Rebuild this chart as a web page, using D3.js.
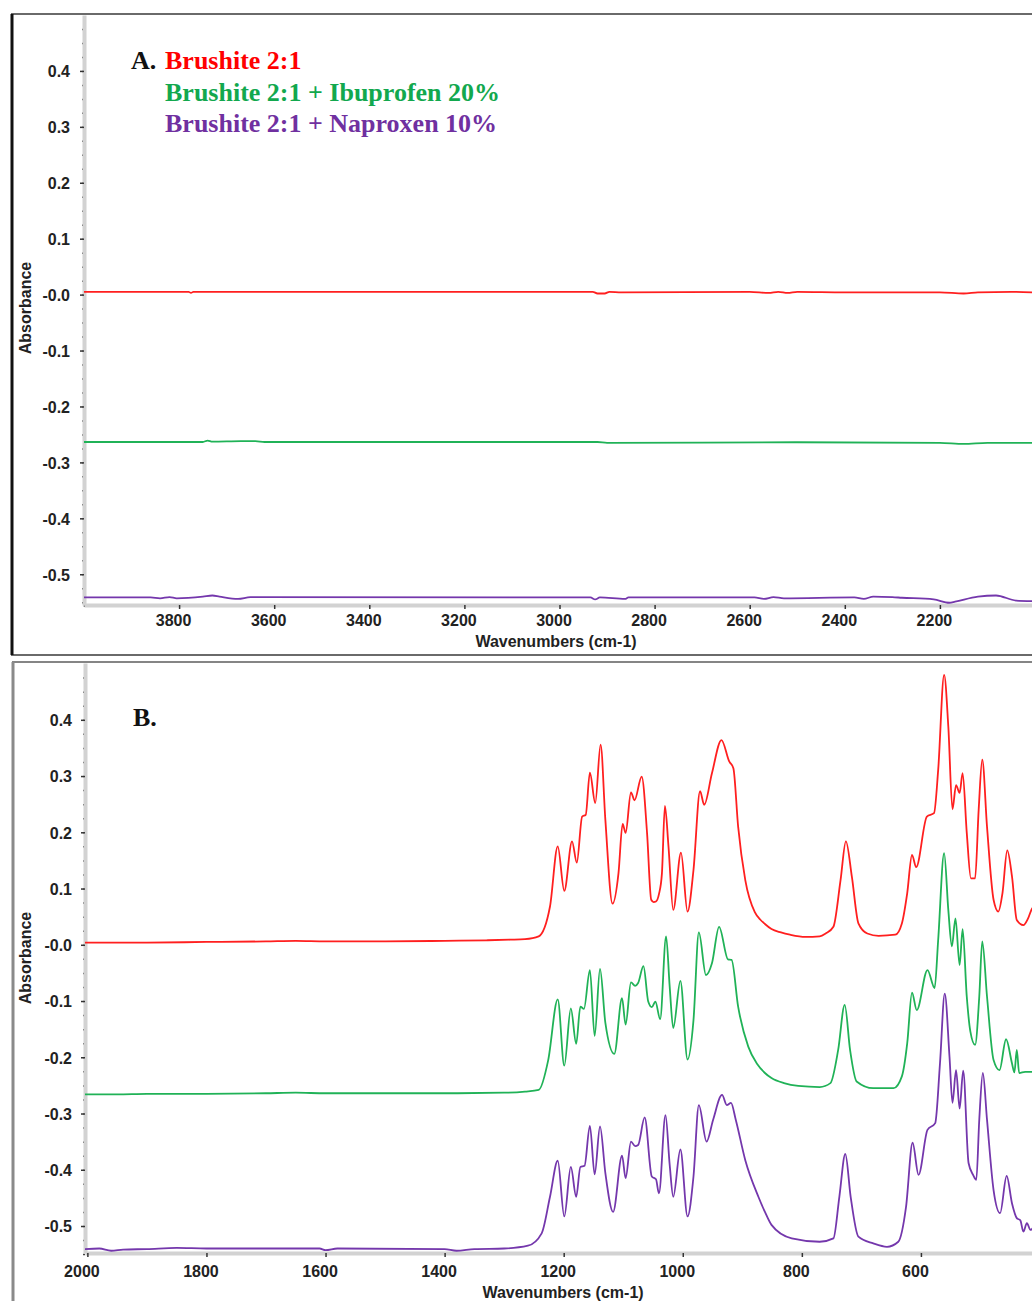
<!DOCTYPE html>
<html>
<head>
<meta charset="utf-8">
<script src="https://cdn.jsdelivr.net/npm/d3@7/dist/d3.min.js"></script>
<style>
  body { margin: 0; background: #fff; }
  svg { display: block; font-family: "Liberation Sans", Arial, sans-serif; }
  .tick text { font-size: 16px; font-weight: bold; fill: #222; }
  .axis .domain { stroke: #d2d2d2; stroke-width: 4; }
  .axis .tick line { stroke: #333; stroke-width: 1.5; }
  .minor .domain { display: none; }
  .minor .tick line { stroke: #444; stroke-width: 1.5; }
  .minor .tick text { display: none; }
</style>
</head>
<body>
<svg id="chart" width="1032" height="1301"></svg>
<script>
// ---- panel A (4000-2000 cm-1): all three traces are flat here
var brushiteA_wn  = [4000, 3780, 3775, 3770, 2930, 2920, 2905, 2895, 2870, 2600, 2560, 2540, 2520, 2500, 2400, 2200, 2150, 2120, 2050, 2000];
var brushiteA_abs = [0.005, 0.005, 0.003, 0.005, 0.005, 0.002, 0.002, 0.005, 0.004, 0.005, 0.003, 0.005, 0.003, 0.005, 0.004, 0.004, 0.002, 0.004, 0.005, 0.004];

var ibuA_wn  = [4000, 3750, 3740, 3730, 3670, 3640, 3620, 2920, 2900, 2500, 2200, 2150, 2100, 2000];
var ibuA_abs = [-0.2635, -0.2635, -0.261, -0.263, -0.262, -0.262, -0.2635, -0.2635, -0.265, -0.264, -0.265, -0.267, -0.265, -0.265];

var napA_wn  = [4000, 3860, 3840, 3820, 3805, 3750, 3730, 3715, 3676, 3650, 2935, 2925, 2915, 2862, 2855, 2590, 2570, 2550, 2528, 2380, 2360, 2340, 2300, 2280, 2213, 2180, 2168, 2120, 2082, 2040, 2000];
var napA_abs = [-0.5415, -0.5415, -0.543, -0.541, -0.543, -0.540, -0.538, -0.540, -0.544, -0.541, -0.5415, -0.545, -0.5415, -0.544, -0.5415, -0.5415, -0.544, -0.541, -0.543, -0.5415, -0.544, -0.540, -0.541, -0.542, -0.545, -0.551, -0.549, -0.540, -0.538, -0.547, -0.548];

// ---- panel B (2000-400 cm-1)
var brushiteB_wn  = [2004, 1900, 1800, 1700, 1650, 1600, 1500, 1400, 1330, 1290, 1265, 1242, 1223, 1210, 1199, 1186, 1178, 1169, 1163, 1156, 1147, 1138, 1130, 1118, 1108, 1101, 1096, 1087, 1081, 1069, 1060, 1053, 1049, 1045, 1040, 1035, 1030, 1024, 1016, 1003, 992, 982, 971, 964, 951, 935, 922, 915, 907, 895, 879, 870, 862, 851, 835, 820, 794, 770, 760, 747, 735, 726, 716, 705, 690, 671, 643, 632, 623, 615, 608, 590, 578, 571, 561, 554, 547, 541, 535, 530, 523, 516, 509, 503, 497, 489, 478, 470, 463, 455, 447, 439, 428, 420, 413, 405];
var brushiteB_abs = [0.004, 0.004, 0.005, 0.006, 0.007, 0.006, 0.006, 0.007, 0.008, 0.009, 0.010, 0.015, 0.068, 0.175, 0.096, 0.184, 0.146, 0.228, 0.231, 0.306, 0.252, 0.356, 0.222, 0.073, 0.127, 0.215, 0.199, 0.271, 0.257, 0.299, 0.199, 0.080, 0.076, 0.077, 0.090, 0.127, 0.247, 0.175, 0.062, 0.164, 0.059, 0.133, 0.273, 0.249, 0.305, 0.364, 0.326, 0.314, 0.210, 0.115, 0.058, 0.045, 0.037, 0.028, 0.022, 0.018, 0.014, 0.015, 0.020, 0.032, 0.115, 0.184, 0.121, 0.038, 0.020, 0.016, 0.018, 0.038, 0.092, 0.160, 0.138, 0.228, 0.234, 0.311, 0.480, 0.388, 0.241, 0.284, 0.270, 0.305, 0.199, 0.118, 0.118, 0.240, 0.329, 0.210, 0.080, 0.059, 0.092, 0.168, 0.121, 0.044, 0.035, 0.047, 0.065, 0.070];

var ibuB_wn  = [2004, 1950, 1900, 1800, 1700, 1650, 1600, 1500, 1400, 1300, 1265, 1242, 1226, 1210, 1199, 1188, 1179, 1172, 1166, 1156, 1148, 1139, 1130, 1115, 1102, 1096, 1087, 1080, 1075, 1066, 1058, 1052, 1046, 1038, 1028, 1022, 1016, 1004, 992, 982, 973, 961, 951, 939, 924, 918, 907, 890, 875, 862, 851, 830, 806, 770, 752, 739, 728, 719, 708, 680, 646, 632, 623, 615, 607, 589, 577, 571, 561, 554, 548, 542, 535, 530, 523, 517, 509, 502, 497, 489, 478, 468, 457, 447, 443, 439, 435, 425, 413, 405];
var ibuB_abs = [-0.266, -0.266, -0.265, -0.265, -0.264, -0.263, -0.264, -0.264, -0.264, -0.263, -0.261, -0.258, -0.205, -0.097, -0.215, -0.113, -0.176, -0.110, -0.114, -0.045, -0.162, -0.043, -0.139, -0.194, -0.095, -0.142, -0.067, -0.073, -0.068, -0.038, -0.101, -0.111, -0.101, -0.132, 0.015, -0.074, -0.148, -0.064, -0.204, -0.134, 0.022, -0.054, -0.033, 0.032, -0.026, -0.027, -0.110, -0.181, -0.212, -0.228, -0.237, -0.246, -0.251, -0.253, -0.246, -0.187, -0.107, -0.187, -0.243, -0.255, -0.255, -0.234, -0.175, -0.085, -0.116, -0.045, -0.077, 0.009, 0.163, 0.062, -0.003, 0.047, -0.036, 0.028, -0.092, -0.154, -0.178, -0.092, 0.006, -0.092, -0.205, -0.223, -0.168, -0.211, -0.227, -0.187, -0.228, -0.226, -0.226, -0.227];

var napB_wn  = [2004, 1980, 1960, 1940, 1900, 1850, 1800, 1700, 1610, 1600, 1580, 1400, 1380, 1350, 1300, 1260, 1237, 1223, 1210, 1199, 1188, 1179, 1172, 1165, 1156, 1148, 1139, 1130, 1117, 1102, 1096, 1087, 1080, 1075, 1064, 1052, 1045, 1040, 1029, 1022, 1016, 1004, 992, 982, 973, 960, 949, 934, 926, 919, 911, 895, 873, 862, 851, 817, 770, 747, 737, 727, 718, 705, 680, 657, 638, 625, 614, 604, 589, 576, 568, 560, 552, 547, 541, 535, 529, 520, 512, 507, 502, 496, 489, 478, 467, 456, 447, 439, 433, 428, 422, 416, 410];
var napB_abs = [-0.541, -0.540, -0.544, -0.542, -0.541, -0.539, -0.540, -0.540, -0.540, -0.543, -0.540, -0.541, -0.544, -0.541, -0.540, -0.535, -0.513, -0.448, -0.384, -0.483, -0.395, -0.448, -0.395, -0.393, -0.322, -0.408, -0.323, -0.406, -0.475, -0.375, -0.415, -0.350, -0.358, -0.356, -0.307, -0.412, -0.417, -0.442, -0.303, -0.391, -0.448, -0.364, -0.483, -0.412, -0.285, -0.350, -0.311, -0.267, -0.285, -0.281, -0.311, -0.383, -0.448, -0.475, -0.498, -0.522, -0.528, -0.522, -0.448, -0.372, -0.448, -0.519, -0.531, -0.537, -0.528, -0.466, -0.352, -0.409, -0.329, -0.317, -0.211, -0.087, -0.199, -0.281, -0.223, -0.291, -0.224, -0.388, -0.410, -0.418, -0.311, -0.228, -0.311, -0.436, -0.477, -0.411, -0.460, -0.486, -0.490, -0.510, -0.495, -0.507, -0.500];

var legendLabels = ["Brushite 2:1", "Brushite 2:1 + Ibuprofen 20%", "Brushite 2:1 + Naproxen 10%"];
var lineColors = ["#ff1f1f", "#20b257", "#7437ac"];
var textColors = ["#ff0000", "#12a84e", "#7030a0"];

var yTicks = d3.range(-5, 5).map(function(i) { return i / 10; });
var xTicksA = [3800, 3600, 3400, 3200, 3000, 2800, 2600, 2400, 2200];
var xTicksB = [2000, 1800, 1600, 1400, 1200, 1000, 800, 600];

var svg = d3.select("#chart");

function zip(wn, ab) {
  return wn.map(function(w, i) { return [w, ab[i]]; });
}

function yFormat(d) {
  return (d <= 0 ? "-" : "") + Math.abs(d).toFixed(1);
}

function drawPanel(opt) {
  var x = d3.scaleLinear().domain(opt.xDomain).range(opt.xRange);
  var y = d3.scaleLinear().domain(opt.yDomain).range(opt.yRange);
  var g = svg.append("g");

  // frame
  g.append("rect")
    .attr("x", opt.frame[0]).attr("y", opt.frame[1])
    .attr("width", 1200).attr("height", opt.frame[2])
    .attr("fill", "none")
    .attr("stroke", opt.frameColor)
    .attr("stroke-width", 2);
  g.append("line")
    .attr("x1", opt.frame[0]).attr("x2", opt.frame[0])
    .attr("y1", opt.frame[1]).attr("y2", opt.frame[1] + opt.frame[2])
    .attr("stroke", opt.leftColor)
    .attr("stroke-width", 3);

  var xMin = opt.xRange[0];
  var yMax = opt.yRange[0];

  // minor ticks first, under the axis band
  g.append("g").attr("class", "minor")
    .attr("transform", "translate(" + xMin + ",0)")
    .call(d3.axisLeft(y).tickValues(d3.range(-0.55, 0.5, 0.025)).tickSize(2).tickSizeOuter(0));
  var minX = d3.range(opt.xDomain[1], opt.xDomain[0] + 1, 50).filter(function(v) { return v % 50 === 0; });
  g.append("g").attr("class", "minor")
    .attr("transform", "translate(0," + yMax + ")")
    .call(d3.axisBottom(x).tickValues(minX).tickSize(2).tickSizeOuter(0));

  var ya = g.append("g").attr("class", "axis")
    .attr("transform", "translate(" + xMin + ",0)")
    .call(d3.axisLeft(y).tickValues(yTicks).tickFormat(yFormat)
      .tickSize(4).tickSizeOuter(0).tickPadding(opt.yPad));
  ya.selectAll(".tick text").attr("dy", "0.36em");

  var xa = g.append("g").attr("class", "axis")
    .attr("transform", "translate(0," + yMax + ")")
    .call(d3.axisBottom(x).tickValues(opt.xTicks).tickFormat(d3.format("d"))
      .tickSize(4).tickSizeOuter(0).tickPadding(opt.xPad));
  xa.selectAll(".tick text").attr("dx", -6);

  // axis titles
  g.append("text")
    .attr("transform", "translate(31," + opt.yTitle + ") rotate(-90)")
    .attr("text-anchor", "middle")
    .attr("font-size", 16).attr("font-weight", "bold").attr("fill", "#222")
    .text("Absorbance");
  g.append("text")
    .attr("x", opt.xTitle[0]).attr("y", opt.xTitle[1])
    .attr("text-anchor", "middle")
    .attr("font-size", 16).attr("font-weight", "bold").attr("fill", "#222")
    .text("Wavenumbers (cm-1)");

  // spectra
  var line = d3.line()
    .curve(d3.curveMonotoneX)
    .x(function(d) { return x(d[0]); })
    .y(function(d) { return y(d[1]); });
  opt.series.forEach(function(s, i) {
    g.append("path")
      .datum(s)
      .attr("fill", "none")
      .attr("stroke", lineColors[i])
      .attr("stroke-width", 1.8)
      .attr("stroke-linejoin", "round")
      .attr("d", line);
  });
  return g;
}

var gA = drawPanel({
  xDomain: [4000, 2000], xRange: [84, 1035],
  yDomain: [-0.555, 0.5], yRange: [605, 15],
  frame: [12, 14, 641], frameColor: "#6a6a6a", leftColor: "#111",
  yPad: 10, xPad: 6,
  xTicks: xTicksA, yTitle: 308, xTitle: [556, 647],
  series: [zip(brushiteA_wn, brushiteA_abs), zip(ibuA_wn, ibuA_abs), zip(napA_wn, napA_abs)]
});

var gB = drawPanel({
  xDomain: [2004, 400], xRange: [85, 1040],
  yDomain: [-0.548, 0.501], yRange: [1253, 663],
  frame: [13, 662, 700], frameColor: "#858585", leftColor: "#8a8a8a",
  yPad: 9, xPad: 9,
  xTicks: xTicksB, yTitle: 958, xTitle: [563, 1298],
  series: [zip(brushiteB_wn, brushiteB_abs), zip(ibuB_wn, ibuB_abs), zip(napB_wn, napB_abs)]
});

// legend in panel A, panel letter in B
var serif = "'Liberation Serif', 'Times New Roman', serif";
gA.append("text")
  .attr("x", 131).attr("y", 69)
  .attr("font-family", serif).attr("font-size", 26).attr("font-weight", "bold")
  .attr("fill", "#111").text("A.");
legendLabels.forEach(function(t, i) {
  gA.append("text")
    .attr("x", 165).attr("y", 69 + i * 31.7)
    .attr("font-family", serif).attr("font-size", 26).attr("font-weight", "bold")
    .attr("fill", textColors[i]).text(t);
});
gB.append("text")
  .attr("x", 133).attr("y", 726)
  .attr("font-family", serif).attr("font-size", 26).attr("font-weight", "bold")
  .attr("fill", "#111").text("B.");
</script>
</body>
</html>
